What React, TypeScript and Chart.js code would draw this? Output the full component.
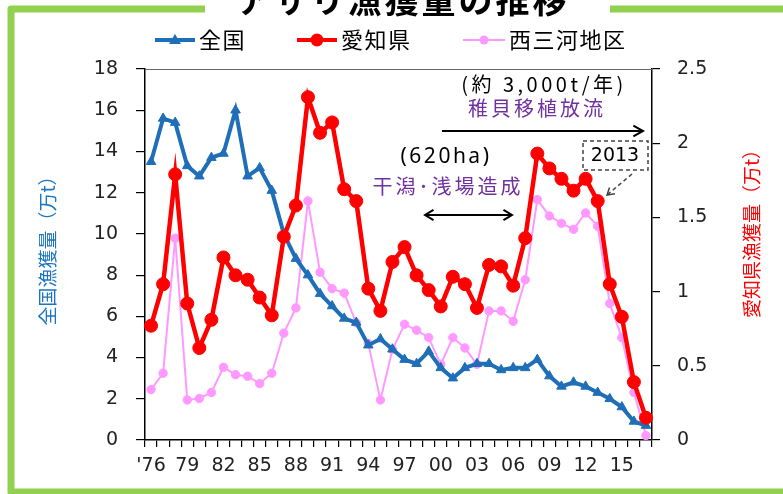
import React, { useEffect, useRef } from 'react';
import { Chart, registerables } from 'chart.js';

Chart.register(...registerables);

const years = [
  '1976','1977','1978','1979','1980','1981','1982','1983','1984','1985',
  '1986','1987','1988','1989','1990','1991','1992','1993','1994','1995',
  '1996','1997','1998','1999','2000','2001','2002','2003','2004','2005',
  '2006','2007','2008','2009','2010','2011','2012','2013','2014','2015',
  '2016','2017',
];
const tickLabels = ["'76", '79', '82', '85', '88', '91', '94', '97', '00', '03', '06', '09', '12', '15'];

// 全国 (万t, left axis)
const nationalCatch = [
  13.5, 15.6, 15.4, 13.3, 12.8, 13.7, 13.9, 16.0, 12.8, 13.2,
  12.1, 10.0, 8.8, 8.0, 7.1, 6.5, 5.9, 5.7, 4.6, 4.9,
  4.4, 3.9, 3.7, 4.3, 3.5, 3.0, 3.5, 3.7, 3.7, 3.4,
  3.5, 3.5, 3.9, 3.1, 2.6, 2.8, 2.6, 2.3, 2.0, 1.6,
  0.9, 0.7,
];
// 愛知県 (万t, right axis)
const aichiCatch = [
  0.77, 1.05, 1.79, 0.92, 0.62, 0.81, 1.23, 1.11, 1.08, 0.96,
  0.84, 1.37, 1.58, 2.31, 2.07, 2.14, 1.69, 1.61, 1.02, 0.87,
  1.20, 1.30, 1.11, 1.01, 0.90, 1.10, 1.05, 0.89, 1.18, 1.17,
  1.04, 1.36, 1.93, 1.83, 1.76, 1.68, 1.76, 1.61, 1.05, 0.83,
  0.39, 0.15,
];
// 西三河地区 (万t, right axis)
const nishimikawaCatch = [
  0.34, 0.45, 1.36, 0.27, 0.28, 0.32, 0.49, 0.44, 0.43, 0.38,
  0.45, 0.72, 0.89, 1.61, 1.13, 1.02, 0.99, 0.79, 0.65, 0.27,
  0.61, 0.78, 0.74, 0.69, 0.51, 0.69, 0.62, 0.51, 0.87, 0.87,
  0.80, 1.08, 1.62, 1.51, 1.46, 1.42, 1.53, 1.44, 0.92, 0.69,
  0.32, 0.03,
];

const seriesNames = ['全国', '愛知県', '西三河地区'];
const chartTitle = 'アサリ漁獲量の推移';
const leftTitle = '全国漁獲量（万t）';
const rightTitle = '愛知県漁獲量（万t）';

const BLUE = '#1F6FB8';
const RED = '#FF0000';
const PINK = '#FF99FF';
const GREEN = '#92D050';
const PURPLE = '#7030A0';
const CJK = '"Noto Sans CJK JP", sans-serif';
const NUM = '"DejaVu Sans", sans-serif';

function head(ctx: CanvasRenderingContext2D, x: number, y: number, ang: number, len: number, spread: number) {
  ctx.beginPath();
  ctx.moveTo(x - len * Math.cos(ang - spread), y - len * Math.sin(ang - spread));
  ctx.lineTo(x, y);
  ctx.lineTo(x - len * Math.cos(ang + spread), y - len * Math.sin(ang + spread));
  ctx.stroke();
}

const decor = {
  id: 'decor',
  beforeDraw(chart: any) {
    const ctx = chart.ctx as CanvasRenderingContext2D;
    ctx.save();
    ctx.fillStyle = '#fff';
    ctx.fillRect(0, 0, chart.width, chart.height);
    // green frame
    ctx.strokeStyle = GREEN;
    ctx.lineWidth = 7;
    ctx.lineJoin = 'round';
    ctx.beginPath();
    ctx.moveTo(205, 9);
    ctx.lineTo(11, 9);
    ctx.lineTo(11, 492);
    ctx.lineTo(783, 492);
    ctx.stroke();
    ctx.beginPath();
    ctx.moveTo(610, 9);
    ctx.lineTo(783, 9);
    ctx.stroke();
    // title
    ctx.fillStyle = '#000';
    ctx.font = 'bold 34px ' + CJK;
    (ctx as any).letterSpacing = '3px';
    ctx.textAlign = 'center';
    ctx.textBaseline = 'middle';
    ctx.fillText(chartTitle, 403, 0);
    (ctx as any).letterSpacing = '0px';
    ctx.restore();
  },
  afterDraw(chart: any) {
    const ctx = chart.ctx as CanvasRenderingContext2D;
    const a = chart.chartArea;
    ctx.save();
    // top border of plot
    ctx.strokeStyle = '#666';
    ctx.lineWidth = 1;
    ctx.beginPath();
    ctx.moveTo(a.left, a.top + 0.5);
    ctx.lineTo(a.right, a.top + 0.5);
    ctx.stroke();

    // legend
    const ly = 40;
    ctx.textAlign = 'left';
    ctx.textBaseline = 'middle';
    ctx.font = '22px ' + CJK;
    (ctx as any).letterSpacing = '1.5px';
    // blue
    ctx.strokeStyle = BLUE; ctx.lineWidth = 4;
    ctx.beginPath(); ctx.moveTo(155, ly); ctx.lineTo(195, ly); ctx.stroke();
    ctx.fillStyle = BLUE;
    ctx.beginPath(); ctx.moveTo(175, ly - 6); ctx.lineTo(181, ly + 4); ctx.lineTo(169, ly + 4); ctx.closePath(); ctx.fill();
    ctx.fillStyle = '#000'; ctx.fillText(seriesNames[0], 199, ly);
    // red
    ctx.strokeStyle = RED; ctx.lineWidth = 4;
    ctx.beginPath(); ctx.moveTo(297, ly); ctx.lineTo(337, ly); ctx.stroke();
    ctx.fillStyle = RED;
    ctx.beginPath(); ctx.arc(317, ly, 6.5, 0, Math.PI * 2); ctx.fill();
    ctx.fillStyle = '#000'; ctx.fillText(seriesNames[1], 341, ly);
    // pink
    ctx.strokeStyle = PINK; ctx.lineWidth = 2;
    ctx.beginPath(); ctx.moveTo(463, ly); ctx.lineTo(505, ly); ctx.stroke();
    ctx.fillStyle = PINK;
    ctx.beginPath(); ctx.arc(484, ly, 4.5, 0, Math.PI * 2); ctx.fill();
    ctx.fillStyle = '#000'; ctx.fillText(seriesNames[2], 509, ly);
    (ctx as any).letterSpacing = '0px';

    // axis titles
    ctx.font = '19px ' + CJK;
    ctx.textAlign = 'center';
    ctx.save();
    ctx.translate(48, 246);
    ctx.rotate(-Math.PI / 2);
    ctx.fillStyle = '#1A75C4';
    ctx.fillText(leftTitle, 0, 0);
    ctx.restore();
    ctx.save();
    ctx.translate(752, 229);
    ctx.rotate(-Math.PI / 2);
    ctx.fillStyle = RED;
    ctx.fillText(rightTitle, 0, 0);
    ctx.restore();

    // annotations
    ctx.fillStyle = '#000';
    ctx.font = '20px ' + CJK;
    (ctx as any).letterSpacing = '3.5px';
    ctx.fillText('(約 3,000t/年)', 544, 84);
    (ctx as any).letterSpacing = '3px';
    ctx.fillStyle = PURPLE;
    ctx.fillText('稚貝移植放流', 537, 108);
    (ctx as any).letterSpacing = '0px';
    ctx.strokeStyle = '#000';
    ctx.lineWidth = 2;
    ctx.beginPath(); ctx.moveTo(442, 131); ctx.lineTo(643, 131); ctx.stroke();
    head(ctx, 643, 131, 0, 11, 0.5);

    ctx.fillStyle = '#000';
    ctx.font = '21px "Noto Sans", sans-serif';
    (ctx as any).letterSpacing = '2.5px';
    ctx.fillText('(620ha)', 446, 157);
    ctx.font = '20px ' + CJK;
    ctx.fillStyle = PURPLE;
    (ctx as any).letterSpacing = '3px';
    ctx.fillText('干潟･浅場造成', 448, 186);
    (ctx as any).letterSpacing = '0px';
    ctx.strokeStyle = '#000';
    ctx.beginPath(); ctx.moveTo(425, 215); ctx.lineTo(512, 215); ctx.stroke();
    head(ctx, 512, 215, 0, 10, 0.55);
    head(ctx, 425, 215, Math.PI, 10, 0.55);

    // 2013 box
    ctx.strokeStyle = '#444';
    ctx.lineWidth = 1.5;
    ctx.setLineDash([4, 3]);
    ctx.strokeRect(583, 141, 65, 29);
    ctx.beginPath(); ctx.moveTo(632, 174); ctx.lineTo(607, 195); ctx.stroke();
    ctx.setLineDash([]);
    head(ctx, 607, 195, Math.atan2(195 - 174, 607 - 632), 8, 0.55);
    ctx.fillStyle = '#000';
    ctx.font = '19px ' + NUM;
    ctx.fillText('2013', 615, 156);
    ctx.restore();
  },
};

export default function App() {
  const ref = useRef<HTMLCanvasElement | null>(null);
  useEffect(() => {
    if (!ref.current) return;
    const chart = new Chart(ref.current, {
      type: 'line',
      data: {
        labels: years,
        datasets: [
          {
            label: seriesNames[0],
            data: nationalCatch,
            yAxisID: 'y',
            borderColor: BLUE,
            backgroundColor: BLUE,
            borderWidth: 4,
            pointStyle: 'triangle',
            pointRadius: 5.5,
            pointBorderWidth: 1,
            order: 2,
          },
          {
            label: seriesNames[1],
            data: aichiCatch,
            yAxisID: 'y1',
            borderColor: RED,
            backgroundColor: RED,
            borderWidth: 4.5,
            pointStyle: 'circle',
            pointRadius: 6.5,
            pointBorderWidth: 1,
            order: 1,
          },
          {
            label: seriesNames[2],
            data: nishimikawaCatch,
            yAxisID: 'y1',
            borderColor: PINK,
            backgroundColor: PINK,
            borderWidth: 2,
            pointStyle: 'circle',
            pointRadius: 4.2,
            pointBorderWidth: 1,
            order: 3,
          },
        ],
      },
      options: {
        responsive: false,
        animation: false,
        devicePixelRatio: 1,
        layout: { padding: { top: 69, left: 0, right: 0, bottom: 0 } },
        plugins: { legend: { display: false }, tooltip: { enabled: false }, title: { display: false } },
        scales: {
          x: {
            offset: true,
            grid: { offset: true, drawOnChartArea: false, drawTicks: true, tickLength: 7, color: '#000', lineWidth: 1.2 },
            border: { display: true, color: '#000', width: 1.5 },
            ticks: {
              autoSkip: false,
              maxRotation: 0,
              minRotation: 0,
              padding: 8,
              color: '#222',
              font: { family: NUM, size: 19 },
              callback: (_v: any, i: number) => (i % 3 === 0 ? tickLabels[i / 3] : ''),
            },
            afterFit: (s: any) => { s.height = 54; },
          },
          y: {
            position: 'left',
            min: 0,
            max: 18,
            grid: { drawOnChartArea: false, drawTicks: true, tickLength: 9, color: '#000', lineWidth: 1.2 },
            border: { display: true, color: '#000', width: 1.5 },
            ticks: { stepSize: 2, padding: 18, color: '#222', font: { family: NUM, size: 19 } },
            afterFit: (s: any) => { s.width = 145; },
          },
          y1: {
            position: 'right',
            min: 0,
            max: 2.5,
            grid: { drawOnChartArea: false, drawTicks: true, tickLength: 8, color: '#000', lineWidth: 1.2 },
            border: { display: true, color: '#000', width: 1.5 },
            ticks: {
              stepSize: 0.5,
              padding: 17,
              color: '#222',
              font: { family: NUM, size: 19 },
              callback: (v: any) => String(Number(v)),
            },
            afterFit: (s: any) => { s.width = 131; },
          },
        },
      },
      plugins: [decor],
    } as any);
    return () => chart.destroy();
  }, []);
  return (
    <div style={{ position: 'absolute', left: 0, top: 0, width: 783, height: 494 }}>
      <canvas ref={ref} width={783} height={494} style={{ display: 'block', width: 783, height: 494 }} />
    </div>
  );
}
